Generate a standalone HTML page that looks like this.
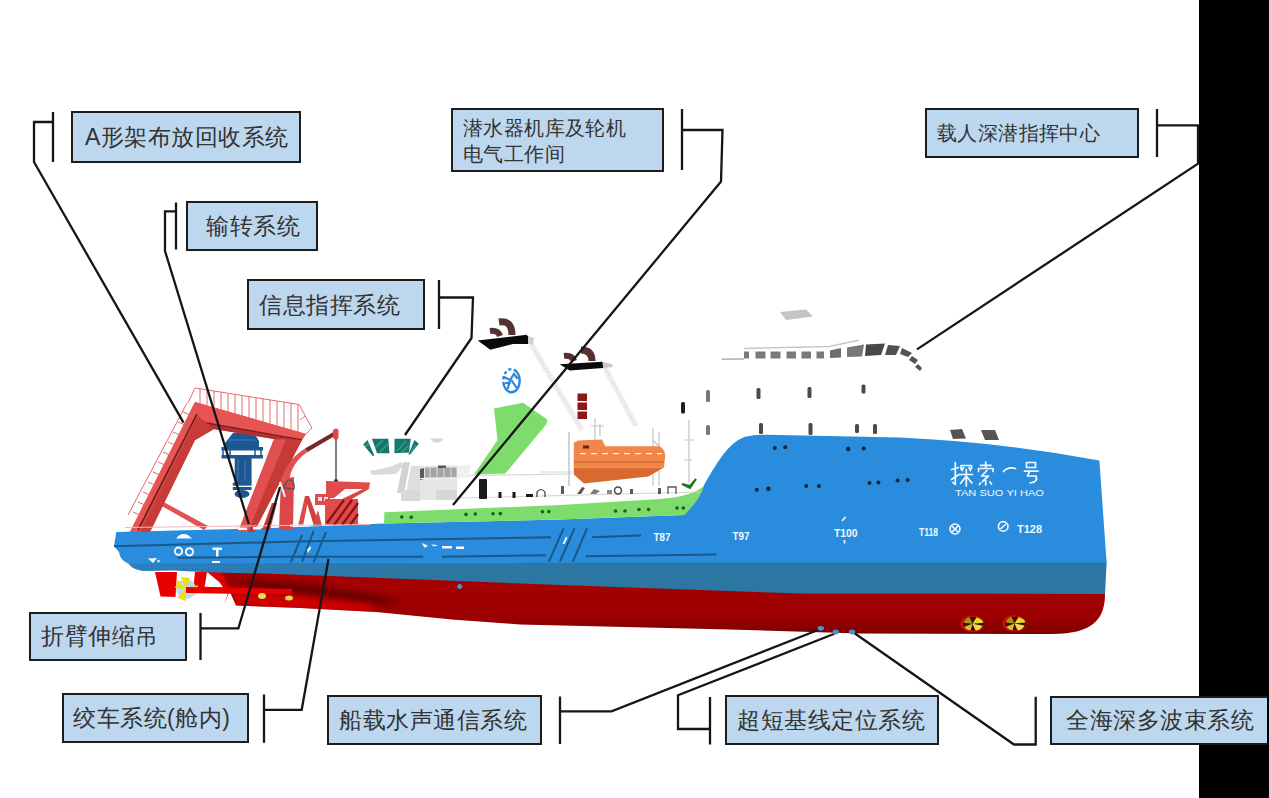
<!DOCTYPE html>
<html><head><meta charset="utf-8">
<style>
html,body{margin:0;padding:0;background:#fff;}
body{width:1269px;height:798px;position:relative;overflow:hidden;font-family:"Liberation Sans",sans-serif;}
svg{position:absolute;left:0;top:0;}
.b{position:absolute;box-sizing:border-box;background:#bdd7ee;border:2px solid #1c1c1c;}
.t{position:absolute;color:#333;font-size:23px;line-height:23px;letter-spacing:0.5px;white-space:nowrap;}
.s{font-size:20px;line-height:20px;letter-spacing:0.4px;}
.blk{position:absolute;left:1199px;top:0;width:70px;height:798px;background:#000;}
</style></head><body>
<svg width="1269" height="798" viewBox="0 0 1269 798">
<!-- hull -->
<defs>
<linearGradient id="red" x1="0" y1="0" x2="0" y2="1">
<stop offset="0" stop-color="#a80000"/><stop offset="0.75" stop-color="#9c0000"/><stop offset="1" stop-color="#7c0000"/>
</linearGradient>
<linearGradient id="sh" gradientUnits="userSpaceOnUse" x1="230" y1="0" x2="410" y2="0">
<stop offset="0" stop-color="#5a0000" stop-opacity="0.95"/><stop offset="0.55" stop-color="#6a0000" stop-opacity="0.7"/><stop offset="1" stop-color="#9a0000" stop-opacity="0"/>
</linearGradient>
<linearGradient id="db" gradientUnits="userSpaceOnUse" x1="128" y1="0" x2="420" y2="0"><stop offset="0" stop-color="#2a80c4"/><stop offset="1" stop-color="#2c76a2"/></linearGradient>
</defs>
<g id="hull">
<!-- stern appendages -->
<path d="M155 572L177 572L175.5 597L160.5 596.5Z" fill="#e80000"/>
<path d="M195 572L207 572L204 591L193 591Z" fill="#e80000"/>
<path d="M213 572L223 572L233 589L224 589Z" fill="#e80000"/>
<path d="M186 586.5L292 588.5L292 594L186 593Z" fill="#e80000"/>
<circle cx="186" cy="589" r="10" fill="#b8dcec"/>
<path d="M186 589L181 577L190 578ZM186 589L198 585L196 595ZM186 589L186 601L177 598ZM186 589L175 588L178 580Z" fill="#f2dc10"/>
<!-- red hull -->
<clipPath id="hc"><path d="M207 568L330 572L560 581L800 589.5L1105 590L1105 594C1105 618 1094 634 1052 634L860 633.6L730 629.5L520 624.5L452 619.5L376 612L301 608L236 605.5L229 590Z"/></clipPath>
<filter id="bl" x="-20%" y="-50%" width="140%" height="200%"><feGaussianBlur stdDeviation="3.5"/></filter>
<path d="M207 568L330 572L560 581L800 589.5L1105 590L1105 594C1105 618 1094 634 1052 634L860 633.6L730 629.5L520 624.5L452 619.5L376 612L301 608L236 605.5L229 590Z" fill="url(#red)"/>
<g clip-path="url(#hc)">
<path d="M222 578L300 584L370 594L405 603L360 606L290 597Z" fill="#5c0000" filter="url(#bl)" opacity="0.9"/>
<path d="M229 592L293 594L370 603L378 613L301 609L236 606Z" fill="#dc0000" filter="url(#bl)" opacity="0.85"/>
</g>
<path d="M207 572L222 572L230 590L224 605L229 590Z" fill="#dc0000"/>
<path d="M186 587L292 589L292 594L186 593Z" fill="#e80000"/>
<ellipse cx="262" cy="596" rx="4" ry="3" fill="#e8e050"/><ellipse cx="289" cy="598" rx="4" ry="2.5" fill="#e8d040"/>
<circle cx="459.7" cy="586.5" r="2.5" fill="#4a90d0"/>
<!-- dark band -->
<path d="M128 558L560 558L1106 558L1106.6 562.7L1105 594L800 593.5L560 585L330 576L265 573.6L206 572.3L174 570.4L143 571Q130 569 128 562.5Z" fill="url(#db)"/>
<!-- blue hull -->
<path d="M116.3 532L265 528.2L384 523.5L560 519.5L684 515Q694 503 701.6 489.7Q712 470 722.4 455.6Q733 441 745 436.7Q755 434.5 766 434.8L900 437.5Q1000 442 1099.4 460.4L1106.6 562.7L560 562.8L128 563.5Q120 560 119 552L114 546Z" fill="#2a8cdc"/>
<!-- hull lines -->
<g fill="none" stroke="#1a5888" stroke-width="2">
<path d="M114 546.3L295 541.6L551 537.2"/>
<path d="M592 537.2L641 535.6"/>
<path d="M177.5 557.7L287 556.7L423 556.8M442 556.8L546 555.2M585.5 556.2L716.4 554.6"/>
<path d="M291 562L302 535M302 562L313.6 531M313.6 562L326 532"/>
<path d="M549 561.5L563.5 528.4M560 561.5L574.5 528.4M573 561.5L587 528.4"/>
</g>
<!-- green stripe -->
<path d="M384.4 512.2L560 505L660 499Q690 497 704 486Q700 500 684 515L560 519.5L384 523.5Z" fill="#7ddc6c"/>
<g fill="#1c5c1c">
<circle cx="401.8" cy="517" r="1.8"/><circle cx="411.2" cy="517.3" r="1.8"/>
<circle cx="466" cy="514.4" r="1.8"/><circle cx="475.3" cy="514" r="1.8"/>
<circle cx="493" cy="513.8" r="1.8"/><circle cx="500.3" cy="513.6" r="1.8"/>
<circle cx="542.5" cy="511.8" r="1.8"/><circle cx="548.8" cy="511.6" r="1.8"/>
<circle cx="615.5" cy="511" r="1.8"/><circle cx="625" cy="511" r="1.8"/>
<circle cx="639" cy="509.5" r="1.8"/><circle cx="648.6" cy="509.5" r="1.8"/>
<circle cx="677" cy="508" r="1.8"/><circle cx="683.3" cy="508" r="1.8"/>
</g>
<!-- portholes -->
<g fill="#14263a">
<circle cx="774.8" cy="448" r="2"/><circle cx="785.2" cy="447.3" r="2"/><circle cx="848.2" cy="449" r="2.2"/><circle cx="863.7" cy="448.5" r="2"/>
<circle cx="756.8" cy="489.7" r="2"/><circle cx="768.4" cy="488.7" r="2.2"/><circle cx="806.2" cy="485.9" r="2"/><circle cx="818.9" cy="485.9" r="2"/>
<circle cx="869.5" cy="483" r="2"/><circle cx="878.4" cy="482.5" r="2"/><circle cx="897.6" cy="480.6" r="2"/><circle cx="907.7" cy="480" r="2"/>
</g>
<!-- bow thrusters -->
<g transform="translate(972.5 623.8)">
<ellipse rx="12" ry="8.2" fill="#d01008"/>
<ellipse cx="1" rx="10.5" ry="7" fill="#3a1004"/>
<path d="M0 0L4 -6.5Q10 -5 11 -1Z" fill="#ecd42a"/>
<path d="M0 0L10 2Q8 6.5 3 6.8Z" fill="#f0dc40"/>
<path d="M0 0L-2 6.8Q-7 6 -8 3Z" fill="#d8c020"/>
<path d="M0 0L-9 -1Q-7 -6 -3 -6.5Z" fill="#c8b020" opacity="0.8"/>
</g>
<g transform="translate(1014.5 623.4)">
<ellipse rx="12" ry="8.2" fill="#d01008"/>
<ellipse cx="1" rx="10.5" ry="7" fill="#3a1004"/>
<path d="M0 0L4 -6.5Q10 -5 11 -1Z" fill="#ecd42a"/>
<path d="M0 0L10 2Q8 6.5 3 6.8Z" fill="#f0dc40"/>
<path d="M0 0L-2 6.8Q-7 6 -8 3Z" fill="#d8c020"/>
<path d="M0 0L-9 -1Q-7 -6 -3 -6.5Z" fill="#c8b020" opacity="0.8"/>
</g>
</g>

<!-- super -->
<g id="super">
<!-- faint superstructure outlines -->
<g fill="none" stroke="#d8d8d8" stroke-width="1.2">
<path d="M440 476L572 474"/>
<path d="M569 432V486"/>
<path d="M540 472H573"/>
<path d="M460 498L700 492"/>
<path d="M722 359L744 359"/>
</g>
<!-- ladders -->
<g stroke="#eeeeee" stroke-width="5.5" fill="none">
<path d="M531 344L582 430"/>
<path d="M605 368L636 426"/>
</g>
<g stroke="#c8c8c8" stroke-width="1" stroke-dasharray="1 3" fill="none">
<path d="M531 344L582 430"/>
<path d="M605 368L636 426"/>
</g>
<!-- light gray deck block -->
<path d="M370 471L390 467L401 462L403 466L396 474L372 475Z" fill="#dadada"/>
<path d="M397 493L403 462.5L410 462L404 493Z" fill="#d2d2d2"/>
<path d="M405 500L411 466L420 466L420 500Z" fill="#dedede"/>
<path d="M420 466L457 465.5L457 500L457 490L436 490L436 500L420 500Z" fill="#e6e6e6"/><path d="M457 465.5L470 465L470 478L457 478Z" fill="#f0f0f0"/>
<path d="M436 490H457V500H436Z" fill="#d6d6d6"/>
<path d="M401 490H420V501H401Z" fill="#d8d8d8"/>
<path d="M425 467.6L456.5 467.6L456.5 477.6L425 477.6Z" fill="#a4a4a4"/>
<path d="M430 468V477M437 468V477M444 468V477M451 468V477" stroke="#e0e0e0" stroke-width="1"/>
<path d="M438 465.5H446V468H438Z" fill="#555"/>
<path d="M420 469L424 468L424 479L420 480Z" fill="#5a5a5a"/>
<path d="M420 478.5L470 477.5" stroke="#f4f4f4" stroke-width="1.2"/>
<path d="M430 438.5L444 438.5L440 442.5L434 442.5Z" fill="#d8d8d8"/>
<!-- teal bridge windows -->
<g fill="#16776c">
<path d="M363.2 444.4L367.5 440L374.4 455.7L372.5 455.7Z"/>
<path d="M372 438.8L388.2 438.8L389.5 453.2L377 453.2Z"/>
<path d="M394.5 438.8L410.8 438.8L408.9 452.6L394.5 453.2Z"/>
<path d="M414.5 440L418.9 443.8L410 454.5L408.3 454.5Z"/>
</g>
<g stroke="#40b0a0" stroke-width="1.2" opacity="0.75">
<path d="M375 448L383 440M380 452L389 443M365 447L369 443M397 451L406 441M401 453L409 445M411 451L416 445"/>
</g>
<!-- green fin -->
<path d="M494 408.5L523 402.7L546.7 419Q548 422 545 426L505.3 473.5L474 474.5L497.5 440Z" fill="#7ddc6c"/>
<!-- funnels -->
<g fill="none" stroke="#573030" stroke-linecap="butt">
<path d="M499 322Q512 320 512 335" stroke-width="7"/>
<path d="M490 331Q498 330 500 336" stroke-width="6"/>
<path d="M581 350Q592 350 592 361" stroke-width="7"/>
<path d="M564 356Q572 355 574 361" stroke-width="6"/>
</g>
<path d="M477.7 340.4L526.8 334.7L528.7 337.8L528 344.1L513 344.1L490.3 349.8Z" fill="#0a0a0a"/>
<path d="M559.6 364.3L602.5 361.8L603.1 368.1L569.7 370.6Z" fill="#0a0a0a"/>
<path d="M528 336L534 338L533 344L528 344Z" fill="#d0d0d0"/>
<path d="M603 362L612 364L613 367L603 368Z" fill="#c8c8c8"/>
<!-- logo -->
<ellipse cx="511.5" cy="380.7" rx="8.2" ry="11.6" fill="none" stroke="#2a86d8" stroke-width="2.4" stroke-dasharray="30 2.5 3 2.5 3 2.5 3 2.5"/>
<path d="M504 377L510 380L514 374L517 378M510 380L508 388M512 381L516 387M506 383L510 383" fill="none" stroke="#2a86d8" stroke-width="2.2" stroke-linecap="round"/>
<!-- red vents -->
<g fill="#8a1818"><rect x="577.5" y="393.5" width="9.5" height="7.5"/><rect x="577.5" y="402.5" width="9.5" height="7.5"/><rect x="577.5" y="411.5" width="9.5" height="7.5"/></g>
<!-- mast etc -->
<g stroke="#c4c4c4" stroke-width="1.2" fill="none">
<path d="M689 420V483M684 440H694M684 460H692"/>
<path d="M595 418V440M591 426H604M600 424V436"/>
<path d="M653 428V486M659 432V486M653 440L664 452"/>
<path d="M569 432V486"/>
</g>
<!-- lifeboat -->
<path d="M573.8 442.8L578 440.5L602 439.4L605.4 446.2L659.6 446.2Q665 449 665.2 456.3L664 467.6L573.8 467.6Z" fill="#f0864a"/>
<path d="M573.8 467.6L664 467.6L648.3 476.6L584 483.4L573.8 474.4Z" fill="#d86a30"/>
<path d="M574 462H664" stroke="#c86028" stroke-width="1"/>
<path d="M580 453.6H662" stroke="#fff0e0" stroke-width="1.3" stroke-dasharray="6 5"/>
<rect x="583" y="445.5" width="6" height="3" fill="#5a2a10"/>
<!-- deck items -->
<g fill="#1a1a1a">
<rect x="479" y="479" width="8" height="20" rx="1"/>
<rect x="498.5" y="492" width="3" height="6"/><rect x="512.5" y="492" width="3" height="6"/>
<rect x="526" y="494" width="7" height="3"/>
</g>
<path d="M537 497V492Q541 487 545 492V497" stroke="#333" stroke-width="1.2" fill="none"/>
<g fill="#5a5a5a"><rect x="561" y="486" width="3" height="8"/><path d="M577 494L582 487L585 488L581 494Z"/><path d="M590 494L594 489L600 491L596 494Z" opacity="0.8"/><circle cx="618" cy="490.5" r="3.5" fill="none" stroke="#444" stroke-width="1.5"/><rect x="607" y="490" width="5" height="4" opacity="0.7"/><rect x="630" y="489" width="3" height="5"/><path d="M668 494V487H676V494" fill="none" stroke="#555" stroke-width="1.3"/><rect x="658" y="488" width="3" height="6"/></g>
<path d="M682 484L690 486L696 479L690 488Z" fill="#1e7a1e" stroke="#1e7a1e" stroke-width="2"/>
<!-- window marks -->
<g fill="#4a4a4a">
<rect x="681" y="402" width="4" height="11.5" rx="1.5" fill="#1e1e1e"/>
<rect x="706" y="390" width="4" height="12" rx="1.5" fill="#777"/>
<rect x="706" y="425" width="4" height="10" rx="1.5" fill="#777"/>
<rect x="756.5" y="388" width="4" height="11" rx="1.5"/>
<rect x="807.5" y="387" width="4" height="11" rx="1.5"/>
<rect x="861.5" y="384.5" width="4" height="9" rx="1.5"/>
<rect x="759" y="423" width="4" height="11" rx="1.5"/>
<rect x="808.5" y="423" width="4" height="12" rx="1.5"/>
<rect x="855" y="424" width="4" height="9" rx="1.5"/>
<rect x="873" y="424" width="4" height="10" rx="1.5"/>
</g>
<!-- bridge top windows -->
<path d="M721.5 359.3L744 359" stroke="#b8b8b8" stroke-width="1.5"/>
<path d="M744 348.4L829 346.4L858.8 340.2" stroke="#c8c8c8" stroke-width="1.5" fill="none"/>
<g fill="#7a7a7a">
<rect x="744" y="351.5" width="5" height="7"/>
<rect x="755.5" y="351.5" width="10" height="7"/>
<rect x="770.5" y="351.5" width="10" height="7"/>
<rect x="786.5" y="351.5" width="9.5" height="7"/>
<rect x="801.5" y="351.5" width="9.5" height="7"/>
<rect x="816.5" y="351.5" width="7.5" height="7"/>
<path d="M830 350.5L841 348L841 357.5L830 358Z" fill="#6e6e6e"/>
<path d="M847 347.5L864 344.5L862 356.5L847 357Z" fill="#787878"/>
<path d="M866 344.5L885 343.5L881 355L865 356Z" fill="#484848"/>
<path d="M888 345L900 346L896 355L885 355Z" fill="#505050"/>
<path d="M902 348L912 353L908 357L900 354Z" fill="#555"/>
<path d="M912 356L918 360L915 364L909 360Z" fill="#555"/>
<path d="M918 364L922 368L920 371L915 367Z" fill="#555"/>
</g>
<path d="M780 312L806 309.5L813 316.5L786 320Z" fill="#c4c4c4"/>
<!-- foredeck vents -->
<path d="M950 430L962 429L966 438.5L953 439Z" fill="#555"/>
<path d="M981 430L995 430L999 440L985 440Z" fill="#555"/>
</g>

<!-- aframe -->
<g id="aframe">
<!-- diagonal strut -->
<path d="M153 501L157 498.5L208 526L204 530Z" fill="#e25252"/>
<!-- blue launch system -->
<g fill="#1e5894">
<path d="M233 433L253 431.5L259 441L259 447L225 447L225 443Z"/>
<rect x="221.5" y="447" width="41.5" height="3.5"/>
<rect x="221.5" y="455" width="41.5" height="3.5"/>
<path d="M223 450V455M230 450V455M255 450V455M261 450V455" stroke="#1e5894" stroke-width="1.5"/>
<rect x="234.7" y="458" width="16.9" height="25"/>
<rect x="232.8" y="482.7" width="18.8" height="3"/>
<rect x="232.8" y="487" width="18.8" height="3"/>
<ellipse cx="242" cy="494" rx="7.5" ry="4"/>
</g>
<g stroke="#4a88c8" stroke-width="1" opacity="0.8"><path d="M238 460V481M245 460V481M229 440H255"/></g>
<!-- A-frame silhouette -->
<path d="M130 532L195 402L306 434L302 440L254 532L238 532L274 439L214 429L195 440L150 532Z" fill="#dc4646"/>
<!-- top face lighter -->
<path d="M195 402L306 434L302 440L195 421Z" fill="#e65454"/>
<!-- dark line along beam -->
<path d="M195 421L302 440" stroke="#7a1f1f" stroke-width="1.6"/>
<!-- under face -->
<path d="M195 422L302 440.5L274 439L214 429L195 440Z" fill="#b23030"/>
<!-- left leg outer light strip -->
<path d="M130 532L195 402L200 410L138 532Z" fill="#e65454"/>
<path d="M138 530L197 414" stroke="#6a1a1a" stroke-width="1.6"/>
<path d="M140 532L198 416L214 429L195 440L150 532Z" fill="#c83c38"/>
<!-- right leg shading -->
<path d="M274 439L286 439.5L248 532L238 532Z" fill="#e05050"/>
<path d="M286 439.5L302 440L254 532L248 532Z" fill="#c63a36"/>
<!-- railings -->
<g stroke="#e46a6a" stroke-width="1" fill="none">
<path d="M195 388L299 404.5L312 428L306 434"/>
<path d="M200 389V404M207 390V406M214 391V408M221 392.5V410M228 393.5V412M235 394.5V414M242 395.5V416M249 396.5V418M256 397.5V420M263 398.5V422M270 399.5V424M277 401V426M284 402V428M291 403V430M298 404.5V432M305 416L300 420"/>
<path d="M187 403L128 515M195 388L188 403"/>
<path d="M183 412l7 3M178 422l7 3M173 432l7 3M168 442l7 3M163 452l7 3M158 462l7 3M153 472l7 3M148 482l7 3M143 492l7 3M138 502l7 3M133 512l7 3"/>
</g>
<!-- crane -->
<path d="M279 530L293 530L294 477L281 479Z" fill="#dc4646"/>
<path d="M282 482Q284 462 305 448.5L307.5 452Q291 463 289 482Z" fill="#e25050"/>
<path d="M305 448.5L333.5 432L335.5 435.5L307.5 452Z" fill="#7e2626"/>
<path d="M333 430Q336 427 338.5 430L338.5 438Q336 441 333 438Z" fill="#e04848"/>
<path d="M336 439V480" stroke="#3a3a3a" stroke-width="1.3"/>
<circle cx="336" cy="481" r="2" fill="#3a2a2a"/>
<path d="M280 482L285 497" stroke="#e8e8e8" stroke-width="2.2"/>
<path d="M284 488Q286 479 291 480Q295 482 294 489Z" fill="none" stroke="#555" stroke-width="1.3"/>
<!-- deck crane/z-structure -->
<path d="M326 481L370 482.5L369 489L345 489L334 498L326 498Z" fill="#e04c4c"/>
<path d="M363 489L340 500L350 500L369 489Z" fill="#d84444"/>
<path d="M315 494L330 494L330 505L315 505Z" fill="#e04c4c"/>
<path d="M318 497H322V501H318ZM324 497H328V501H324Z" fill="#f8e0e0"/>
<path d="M325 499L358 499L358 525L325 525Z" fill="#e04c4c"/>
<g stroke="#8a1414" stroke-width="2.4"><path d="M327 523L344 500M334 525L352 500M342 525L358 503M350 525L358 514"/></g>
<path d="M298 526L305 496L309 496L303 526Z" fill="#dc4a4a"/>
<path d="M305 497L309 496L320 526L314 526Z" fill="#d04040"/>
<path d="M313 526L318 510L322 526Z" fill="#d84646"/>
<path d="M262 530L272 503L277 503L270 530Z" fill="#c03a3a"/>
<path d="M125 527.5L370 524.5" stroke="#f2b8b8" stroke-width="1"/>
</g>

<!-- details -->
<g id="marks" fill="none" stroke="#f4f8ff" stroke-width="1.7" stroke-linecap="round" stroke-linejoin="round">
<!-- 探 -->
<path d="M951.5 469.5L958.5 467.5M955.3 462.5V484.5L953 482.5M951.5 479.5L959 474.5"/>
<path d="M961 469V465.5H971.5V468.5M963.5 467.5L962 470.5M969 467.5L970.5 470.5M960 474.5H972.5M966.3 469.5V486M966 476.5L960.5 483.5M966.5 476.5L972 483"/>
<!-- 索 -->
<path d="M980.5 465.3H991M985.7 462V468M978.5 471.5V468.5H993V471.5M987 470.5L981.5 476H988.5L982.5 481.5M985.7 478V485M980.5 483L979.5 484.5M990 482L991.5 484"/>
<!-- 一 -->
<path d="M1003.5 471.5Q1008 466.5 1015.5 468.5"/>
<!-- 号 -->
<path d="M1026.5 462.5H1035.5V467.5H1026.5ZM1024.5 471.2H1038M1029.5 471.2L1027.5 476H1036Q1038.5 482 1030 483"/>
</g>
<text x="955" y="496" font-family="Liberation Sans, sans-serif" font-size="9.5" fill="#f4f8ff" textLength="89" lengthAdjust="spacingAndGlyphs">TAN SUO YI HAO</text>
<g fill="#f4f8ff" font-family="Liberation Sans, sans-serif" font-weight="bold">
<text x="653.5" y="541" font-size="10.5" textLength="17" lengthAdjust="spacingAndGlyphs">T87</text>
<text x="732.5" y="540" font-size="10.5" textLength="17" lengthAdjust="spacingAndGlyphs">T97</text>
<text x="834" y="536.5" font-size="10.5" textLength="23.5" lengthAdjust="spacingAndGlyphs">T100</text>
<text x="919" y="535.5" font-size="10.5" textLength="19" lengthAdjust="spacingAndGlyphs">T118</text>
<text x="1017" y="532.5" font-size="10.5" textLength="25" lengthAdjust="spacingAndGlyphs">T128</text>
</g>
<g fill="none" stroke="#f4f8ff" stroke-width="1.6">
<circle cx="955" cy="529" r="5"/><path d="M952 532L958 526M952 526L958 532"/>
<circle cx="1003.2" cy="526.4" r="4.8"/><path d="M1000.5 529L1006 524"/>
<path d="M842 521L845.5 517M844.5 540V543.5"/>
</g>
<!-- stern markings -->
<g fill="#f4f8ff">
<path d="M176 538.5Q181 532 188 535L192 538.5Z"/>
<circle cx="178.5" cy="551.2" r="3.6" fill="none" stroke="#f4f8ff" stroke-width="2"/>
<circle cx="189.5" cy="551.8" r="3.6" fill="none" stroke="#f4f8ff" stroke-width="2"/>
<path d="M212.5 547.5H222V550H218.5V556.5H216V550H212.5Z"/>
<path d="M148 558.5L157 558L153 563Z"/><circle cx="158.5" cy="561" r="1.2"/>
<rect x="212" y="561" width="8" height="2"/>
<rect x="238" y="527.5" width="9" height="2.5"/><rect x="253" y="527" width="8" height="2.5"/>
<path d="M421.5 543L428 545.5L425 548ZM431 544.5L438 545L434 546.5Z"/>
<rect x="442" y="546" width="10" height="2.5"/><rect x="456" y="546.5" width="8" height="2.5"/>
<path d="M562.5 544L566 536.5L567.5 538L564.5 544Z"/>
<path d="M307 550L310 546L311 548L308 553Z"/>
<rect x="290" y="524" width="20" height="3" opacity="0.5"/>
</g>

<!-- lines -->
<g id="lines" fill="none" stroke="#161616" stroke-width="2.3">
<path d="M53 112V162M53 122H34V162L183.5 422.6"/>
<path d="M176 202.5V249.6M176 211.3H165V251L248.8 524"/>
<path d="M439 280V329M439 297.5H473L471.5 338L405 435"/>
<path d="M682 109V170M682 130H722.5L721 181.6L453 505"/>
<path d="M1157 109V157M1157 125.3H1198V163.6L917 349.4"/>
<path d="M200.5 613V660M200.5 628.3H238.4L280 487"/>
<path d="M264 694.5V742.8M264 709.8H301.7L328.5 559"/>
<path d="M560 696.5V744M560 711.4H611.5L820.6 629"/>
<path d="M710 697V744.5M710 729H678V695.3L834.4 633.8"/>
<path d="M852.8 632L1014 744.5H1035.7V696.8"/>
</g>
<g fill="#4a8fd4"><ellipse cx="820.8" cy="628.3" rx="3.2" ry="2.4"/><ellipse cx="835.8" cy="632" rx="3.2" ry="2.4"/><ellipse cx="852" cy="632" rx="3.2" ry="2.4"/></g>

</svg>
<div class="blk"></div>
<div class="b" style="left:71px;top:111px;width:230px;height:52px;"></div><div class="t" style="left:85px;top:126px;">A形架布放回收系统</div>
<div class="b" style="left:186px;top:201px;width:132px;height:50px;"></div><div class="t" style="left:206px;top:215px;">输转系统</div>
<div class="b" style="left:247px;top:279px;width:178px;height:51px;"></div><div class="t" style="left:259px;top:294px;">信息指挥系统</div>
<div class="b" style="left:451px;top:108px;width:213px;height:64px;"></div><div class="t s" style="left:463px;top:118px;">潜水器机库及轮机</div><div class="t s" style="left:463px;top:144px;">电气工作间</div>
<div class="b" style="left:925px;top:108px;width:214px;height:50px;"></div><div class="t s" style="left:937px;top:123px;">载人深潜指挥中心</div>
<div class="b" style="left:29px;top:612px;width:158px;height:49px;"></div><div class="t" style="left:41px;top:625px;">折臂伸缩吊</div>
<div class="b" style="left:62px;top:693px;width:187px;height:50px;"></div><div class="t" style="left:73px;top:707px;">绞车系统(舱内)</div>
<div class="b" style="left:327px;top:695px;width:215px;height:50px;"></div><div class="t" style="left:339px;top:709px;">船载水声通信系统</div>
<div class="b" style="left:725px;top:695px;width:214px;height:50px;"></div><div class="t" style="left:737px;top:709px;">超短基线定位系统</div>
<div class="b" style="left:1050px;top:696px;width:217px;height:49px;border-right:none;"></div><div class="t" style="left:1066px;top:709px;">全海深多波束系统</div>

</body></html>
